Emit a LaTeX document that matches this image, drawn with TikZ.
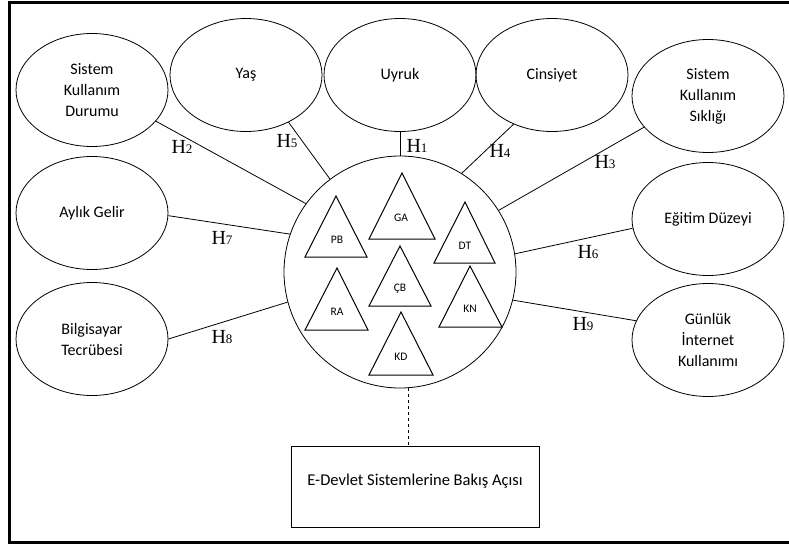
\documentclass[tikz,border=0pt]{standalone}
\usepackage{fontspec}
\setmainfont{Carlito}
\newfontfamily\hfont{Liberation Serif}
\usetikzlibrary{shapes.geometric}
\newcommand\hlab[1]{{\hfont\fontsize{20}{20}\selectfont H\fontsize{13}{13}\selectfont #1}}
\begin{document}
\begin{tikzpicture}[x=1pt,y=-1pt,
  ell/.style={ellipse, draw, line width=0.8pt, minimum width=152pt, minimum height=113pt, inner sep=0pt, align=center, font=\fontsize{16}{21}\selectfont},
  conn/.style={line width=0.8pt},
  tri/.style={line width=1pt, line join=miter},
  tlab/.style={font=\fontsize{11.5}{11.5}\selectfont, inner sep=0pt},
  hnode/.style={inner sep=0pt}]
\useasboundingbox (0,0) rectangle (789,544);
\draw[line width=3.5pt, line join=miter] (789,2.5) -- (9.7,2.5) -- (9.7,542.5) -- (789,542.5);
% ellipses
\node[ell] (skd) at (92,90) {Sistem\\Kullanım\\Durumu};
\node[ell] (yas) at (246,75) {Yaş};
\node[ell] (uyr) at (400,75) {Uyruk};
\node[ell] (cin) at (552,75) {Cinsiyet};
\node[ell] (sks) at (708,96) {Sistem\\Kullanım\\Sıklığı};
\node[ell] (ayl) at (92,213) {Aylık Gelir};
\node[ell] (bil) at (92,339) {Bilgisayar\\Tecrübesi};
\node[ell] (egi) at (708,219) {Eğitim Düzeyi};
\node[ell] (gun) at (708,340) {Günlük\\İnternet\\Kullanımı};
% central circle
\node[circle, draw, line width=0.8pt, minimum size=232pt, inner sep=0pt] (circ) at (400,272) {};
% triangles
\draw[tri] (336,196) -- (305,257) -- (367,257) -- cycle;
\node[tlab] (pb) at (337,240) {PB};
\draw[tri] (402,173) -- (369,239) -- (435,239) -- cycle;
\node[tlab] (ga) at (401,218) {GA};
\draw[tri] (465,202) -- (434,263) -- (495,263) -- cycle;
\node[tlab] (dt) at (465,246) {DT};
\draw[tri] (400,246) -- (369,306) -- (431,306) -- cycle;
\node[tlab] (cb) at (400,289) {ÇB};
\draw[tri] (337,268) -- (305,330) -- (368,330) -- cycle;
\node[tlab] (ra) at (337,312) {RA};
\draw[tri] (470,266) -- (439,327) -- (502,327) -- cycle;
\node[tlab] (kn) at (470,309) {KN};
\draw[tri] (401,312) -- (369,375) -- (433,375) -- cycle;
\node[tlab] (kd) at (401,357) {KD};
% box
\node[draw, line width=0.8pt, minimum width=248pt, minimum height=81pt, text depth=14pt, font=\fontsize{16.5}{19}\selectfont] (box) at (415,486.5) {E-Devlet Sistemlerine Bakış Açısı};
\draw[dashed, line width=0.8pt] (circ.-86) -- (circ.-86 |- box.north);
% connectors
\draw[conn] (uyr.south) -- (circ.north);
\draw[conn] (skd.-26) -- (circ.144);
\draw[conn] (yas.-48) -- (circ.127);
\draw[conn] (cin.232.6) -- (circ.58);
\draw[conn] (sks.206.6) -- (circ.32.5);
\draw[conn] (ayl.-2.3) -- (circ.161.7);
\draw[conn] (bil.0) -- (circ.195.8);
\draw[conn] (circ.9.7) -- (egi.187.5);
\draw[conn] (circ.-14.7) -- (gun.165);
% labels
\node[hnode] (h1) at (417,146) {\hlab{1}};
\node[hnode] (h2) at (182,147) {\hlab{2}};
\node[hnode] (h3) at (605,162) {\hlab{3}};
\node[hnode] (h4) at (500,151) {\hlab{4}};
\node[hnode] (h5) at (287,141) {\hlab{5}};
\node[hnode] (h6) at (588,252) {\hlab{6}};
\node[hnode] (h7) at (222,238) {\hlab{7}};
\node[hnode] (h8) at (222,337) {\hlab{8}};
\node[hnode] (h9) at (583,324) {\hlab{9}};
\end{tikzpicture}
\end{document}
